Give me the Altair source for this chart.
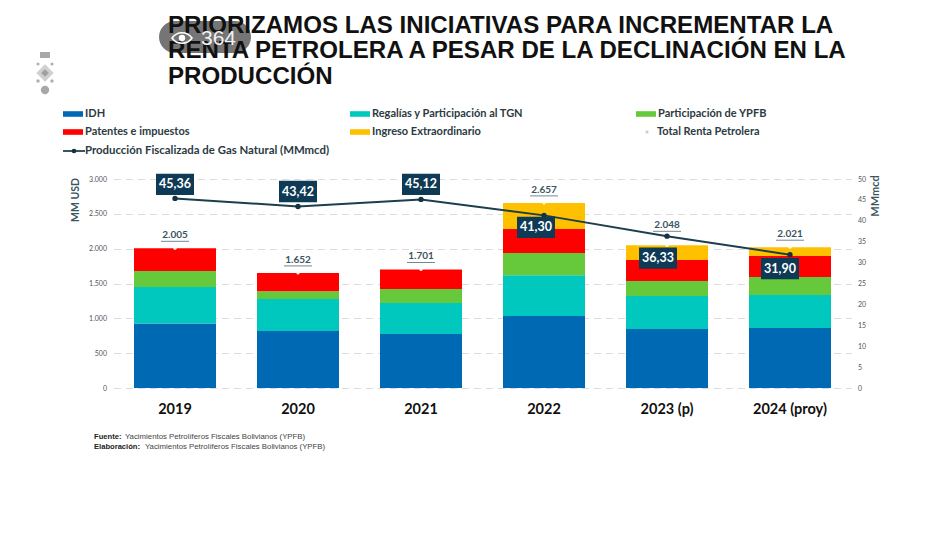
import altair as alt
import pandas as pd

years = ["2019", "2020", "2021", "2022", "2023 (p)", "2024 (proy)"]
idh = [925, 818, 775, 1033, 846, 861]
regalias = [525, 459, 445, 587, 474, 473]
ypfb = [230, 113, 200, 317, 215, 258]
patentes = [325, 262, 281, 344, 301, 302]
extra = [0, 0, 0, 376, 212, 127]
totals = [2005, 1652, 1701, 2657, 2048, 2021]
produccion = [45.36, 43.42, 45.12, 41.30, 36.33, 31.90]
series_names = ["IDH", "Regalías y Participación al TGN", "Participación de YPFB",
                "Patentes e impuestos", "Ingreso Extraordinario"]
series_colors = ["#0069B4", "#00C8BE", "#66C93C", "#FF0000", "#FFC000"]
series_values = [idh, regalias, ypfb, patentes, extra]

stack = pd.DataFrame([
    {"year": y, "serie": n, "order": i, "value": vals[j]}
    for i, (n, vals) in enumerate(zip(series_names, series_values))
    for j, y in enumerate(years)
])
main = pd.DataFrame({
    "year": years, "total": totals, "prod": produccion,
    "total_label": [f"{t:,}".replace(",", ".") for t in totals],
    "prod_label": [f"{p:.2f}".replace(".", ",") for p in produccion],
})

OX, OY = 113.5, 179.0
LEFT, RIGHT = [0, 3000], [0, 50]
SANS = "Lato"
INK = "#2B3A42"

xenc = alt.X("year:N", sort=years, title=None, scale=alt.Scale(paddingInner=0.333, paddingOuter=0.1665),
             axis=alt.Axis(labelAngle=0, labelFontSize=14.5, labelFontWeight="bold", labelFont=SANS,
                           labelColor="#111111", domain=False, ticks=False, labelPadding=14))
yl_none = alt.Y("total:Q", scale=alt.Scale(domain=LEFT), axis=None)
yr_none = alt.Y("prod:Q", scale=alt.Scale(domain=RIGHT), axis=None)


def px(x):
    return alt.value(x - OX)


def py(y):
    return alt.value(y - OY)


one = pd.DataFrame({"a": [0]})


def text(s, x, y, size, weight="normal", color=INK, font=SANS, align="left", angle=0, opacity=1):
    return alt.Chart(one).mark_text(
        fontSize=size, fontWeight=weight, color=color, font=font, align=align,
        baseline="middle", angle=angle, opacity=opacity,
    ).encode(x=px(x), y=py(y), text=alt.value(s))


def shape(path, x, y, size, color, opacity=1, stroke=None):
    kw = dict(shape=path, size=size, opacity=opacity)
    if stroke:
        kw.update(filled=False, stroke=stroke, strokeWidth=1.6)
    else:
        kw.update(filled=True, color=color)
    return alt.Chart(one).mark_point(**kw).encode(x=px(x), y=py(y))


bars = alt.Chart(stack).mark_bar(size=82, stroke=None).encode(
    x=xenc,
    y=alt.Y("value:Q", stack="zero", title=None, scale=alt.Scale(domain=LEFT),
            axis=alt.Axis(values=[0, 500, 1000, 1500, 2000, 2500, 3000],
                          labelExpr="replace(format(datum.value, ','), ',', '.')",
                          labelFontSize=7, labelColor="#555555", labelFont=SANS, domain=False, ticks=False,
                          labelPadding=7, grid=True, gridColor="#DCDCDC", gridDash=[7, 5], gridWidth=1)),
    color=alt.Color("serie:N", sort=series_names, legend=None,
                    scale=alt.Scale(domain=series_names, range=series_colors)),
    order=alt.Order("order:Q"),
)

base = alt.Chart(main)
total_dots = base.mark_point(filled=True, color="#FFFFFF", size=10, opacity=0.9).encode(x=xenc, y=yl_none)
normal = alt.datum.year != "2023 (p)"
total_text = base.transform_filter(normal).mark_text(
    dy=-13, fontSize=10, fontWeight="bold", font=SANS, color="#3A5560").encode(x=xenc, y=yl_none, text="total_label:N")
total_line = base.transform_filter(normal).mark_tick(
    orient="horizontal", yOffset=-7, size=28, thickness=1, color="#3A5560").encode(x=xenc, y=yl_none)
total_text_b = base.transform_filter(~normal).mark_text(
    dy=-20, fontSize=10, fontWeight="bold", font=SANS, color="#3A5560").encode(x=xenc, y=yl_none, text="total_label:N")
total_line_b = base.transform_filter(~normal).mark_tick(
    orient="horizontal", yOffset=-14, size=28, thickness=1, color="#3A5560").encode(x=xenc, y=yl_none)

line = base.mark_line(color="#1D3E4C", strokeWidth=2).encode(
    x=xenc,
    y=alt.Y("prod:Q", title=None, scale=alt.Scale(domain=RIGHT),
            axis=alt.Axis(orient="right", values=list(range(0, 55, 5)), labelFontSize=7, labelColor="#555555",
                          labelFont=SANS, domain=False, ticks=False, labelPadding=6, grid=False)),
)
dots = base.mark_point(filled=True, color="#14323F", size=28, opacity=1).encode(x=xenc, y=yr_none)

BOX = "M-1,-0.56H1V0.56H-1Z"
box_layers = []
for yr, dx, dy in zip(years, [0, 0, 0, -8, -9, -10], [-14, -15, -15, 12, 22, 14]):
    sub = base.transform_filter(alt.datum.year == yr)
    box_layers.append(sub.mark_point(shape=BOX, size=1444, filled=True, color="#0E3A56", opacity=1,
                                     xOffset=dx, yOffset=dy).encode(x=xenc, y=yr_none))
    box_layers.append(sub.mark_text(dx=dx, dy=dy, fontSize=12.5, fontWeight="bold", font=SANS, color="#FFFFFF").encode(
        x=xenc, y=yr_none, text="prod_label:N"))

# page furniture
pill = alt.Chart(one).mark_rect(cornerRadius=16, color="#757575").encode(
    x=px(159), x2=px(251), y=py(21), y2=py(53))
title_font = "Liberation Sans"
TS = 24.1
titles = [
    text("PRIORIZAMOS LAS INICIATIVAS PARA INCREMENTAR LA", 168, 26, TS, "bold", "#111111", title_font),
    text("RENTA PETROLERA A PESAR DE LA DECLINACIÓN EN LA", 168, 51, TS, "bold", "#111111", title_font),
    text("PRODUCCIÓN", 168, 77, TS, "bold", "#111111", title_font),
]
eye = [
    shape("M-1,0C-0.5,-0.7,0.5,-0.7,1,0C0.5,0.7,-0.5,0.7,-1,0Z", 182, 38, 400, "#FFFFFF", stroke="#FFFFFF"),
    shape("circle", 182, 38, 40, "#FFFFFF"),
    text("364", 201, 39, 21, "normal", "#F2F2F2", "Liberation Sans"),
]
logo = [
    shape("M-1,-0.6H1V0.6H-1Z", 45, 55, 100, "#A8A8A8"),
    shape("circle", 45, 90, 70, "#A8A8A8"),
    shape("diamond", 45, 73, 300, "#D0D0D0"),
    shape("diamond", 45, 73, 60, "#A0A0A0"),
    shape("circle", 38, 64, 10, "#B0B0B0"),
    shape("circle", 52, 64, 10, "#B0B0B0"),
    shape("circle", 38, 81, 12, "#B0B0B0"),
    shape("circle", 52, 81, 12, "#B0B0B0"),
]

SW = "M-1,-0.28H1V0.28H-1Z"
legend = []
for name, color, sx, ty in zip(series_names, series_colors, [73, 360, 646, 73, 360], [114, 114, 114, 132, 132]):
    legend.append(shape(SW, sx, ty, 400, color))
    legend.append(text(name, sx + 12, ty, 11, "bold", INK))
legend += [
    shape("square", 647, 132, 8, "#CCCCCC"),
    text("Total Renta Petrolera", 657, 132, 11, "bold", INK),
    shape("M-1,-0.08H1V0.08H-1Z", 74, 151, 484, "#1D3E4C"),
    shape("circle", 74, 151, 22, "#14323F"),
    text("Producción Fiscalizada de Gas Natural (MMmcd)", 85, 151, 11.4, "bold", INK),
]

furniture = [
    text("MM USD", 76, 200, 10.5, "bold", "#3A5560", align="center", angle=270),
    text("MMmcd", 876, 196, 11, "bold", "#3A5560", align="center", angle=270),
    text("Fuente:", 94, 437, 7.6, "bold", "#222222", "Liberation Sans"),
    text("Yacimientos Petrolíferos Fiscales Bolivianos (YPFB)", 125, 437, 7.8, "normal", "#444444", "Liberation Sans"),
    text("Elaboración:", 94, 447, 7.6, "bold", "#222222", "Liberation Sans"),
    text("Yacimientos Petrolíferos Fiscales Bolivianos (YPFB)", 145, 447, 7.8, "normal", "#444444", "Liberation Sans"),
]

chart = alt.layer(
    bars, total_dots, total_text, total_line, total_text_b, total_line_b,
    line, dots, *box_layers,
    pill, *titles, *eye, *logo, *legend, *furniture,
).resolve_scale(y="independent").properties(
    width=738, height=209,
    autosize=alt.AutoSizeParams(type="none"),
    padding={"left": OX - 8, "top": OY - 8, "right": 78.5, "bottom": 140},
    background="#FFFFFF",
).configure_view(stroke=None)

chart.save("out.html", embed_options={"renderer": "svg", "actions": False})
